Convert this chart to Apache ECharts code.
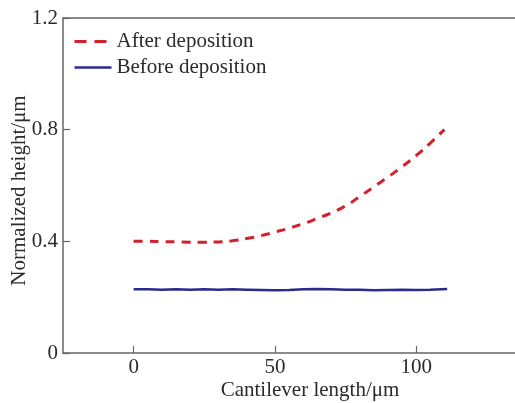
<!DOCTYPE html>
<html>
<head>
<meta charset="utf-8">
<script src="https://cdn.jsdelivr.net/npm/echarts@6/dist/echarts.min.js"></script>
<style>
html,body{margin:0;padding:0;background:#fff;}
#chart{width:515px;height:403px;}
</style>
</head>
<body>
<div id="chart"></div>
<script>
var seriesNames = ['After deposition', 'Before deposition'];
var afterX = [0, 5, 10, 15, 20, 25, 30, 35, 40, 45, 50, 55, 60, 65, 70, 75, 80, 85, 90, 95, 100, 105, 110];
var afterY = [0.400, 0.400, 0.399, 0.398, 0.397, 0.397, 0.398, 0.402, 0.410, 0.420, 0.433, 0.447, 0.463, 0.482, 0.502, 0.527, 0.560, 0.595, 0.630, 0.667, 0.707, 0.752, 0.800];
var beforeX = [0, 5, 10, 15, 20, 25, 30, 35, 40, 45, 50, 55, 60, 65, 70, 75, 80, 85, 90, 95, 100, 105, 111];
var beforeY = [0.228, 0.228, 0.227, 0.228, 0.227, 0.228, 0.227, 0.228, 0.227, 0.226, 0.225, 0.226, 0.228, 0.229, 0.228, 0.227, 0.227, 0.225, 0.226, 0.227, 0.226, 0.227, 0.229];
var xTicks = [0, 50, 100];
var yTicks = [0, 0.4, 0.8, 1.2];

function pairs(xs, ys) { return xs.map(function (x, i) { return [x, ys[i]]; }); }

var font = 'Liberation Serif';
var txt = '#2b2b2b';
var axisCol = '#666';

var chart = echarts.init(document.getElementById('chart'), null, {renderer: 'canvas'});
chart.setOption({
  animation: false,
  backgroundColor: '#fff',
  grid: {left: 63, right: 0, top: 18, bottom: 50, containLabel: false, outerBoundsMode: 'none'},
  legend: {
    orient: 'vertical', left: 68, top: 26,
    itemWidth: 37, itemHeight: 14, itemGap: 5,
    textStyle: {fontFamily: font, fontSize: 21, color: txt},
    itemStyle: {color: 'transparent', borderWidth: 0, opacity: 0},
    data: [
      {name: seriesNames[0], lineStyle: {type: [12, 8], width: 3, color: '#d4202a'}},
      {name: seriesNames[1], lineStyle: {type: 'solid', width: 2.5, color: '#2a2a8f'}}
    ]
  },
  xAxis: [{
    type: 'value', min: -25, max: 135,
    name: 'Cantilever length/μm', nameLocation: 'middle', nameGap: 27, nameMoveOverlap: false,
    nameTextStyle: {fontFamily: font, fontSize: 21, color: txt, padding: [0, 0, 0, 42]},
    axisLine: {show: true, onZero: false, lineStyle: {color: axisCol, width: 1.5}},
    axisTick: {show: true, inside: true, length: 7, customValues: xTicks, lineStyle: {color: axisCol, width: 1.2}},
    axisLabel: {customValues: xTicks, margin: 4, fontFamily: font, fontSize: 21, color: txt},
    splitLine: {show: false}
  }, {
    type: 'value', position: 'top', min: -25, max: 135,
    axisLine: {show: true, onZero: false, lineStyle: {color: axisCol, width: 1.5}},
    axisTick: {show: false}, axisLabel: {show: false}, splitLine: {show: false}
  }],
  yAxis: {
    type: 'value', min: 0, max: 1.2, interval: 0.4,
    name: 'Normalized height/μm', nameLocation: 'middle', nameGap: 33, nameMoveOverlap: false,
    nameTextStyle: {fontFamily: font, fontSize: 21, color: txt, padding: [0, 10, 0, 0]},
    axisLine: {show: true, onZero: false, lineStyle: {color: axisCol, width: 1.5}},
    axisTick: {show: true, inside: true, length: 7, lineStyle: {color: axisCol, width: 1.2}},
    axisLabel: {margin: 5, padding: [5, 0, 0, 0], fontFamily: font, fontSize: 21, color: txt,
      formatter: function (v) { var r = Math.round(v * 10) / 10; return yTicks.indexOf(r) >= 0 ? String(r) : ''; }},
    splitLine: {show: false}
  },
  series: [{
    name: seriesNames[0], type: 'line', smooth: true, symbol: 'none',
    data: pairs(afterX, afterY),
    lineStyle: {color: '#d4202a', width: 3, type: [9, 7]},
    itemStyle: {color: '#d4202a'}
  }, {
    name: seriesNames[1], type: 'line', smooth: false, symbol: 'none',
    data: pairs(beforeX, beforeY),
    lineStyle: {color: '#2a2a8f', width: 2.5},
    itemStyle: {color: '#2a2a8f'}
  }]
});
</script>
</body>
</html>
